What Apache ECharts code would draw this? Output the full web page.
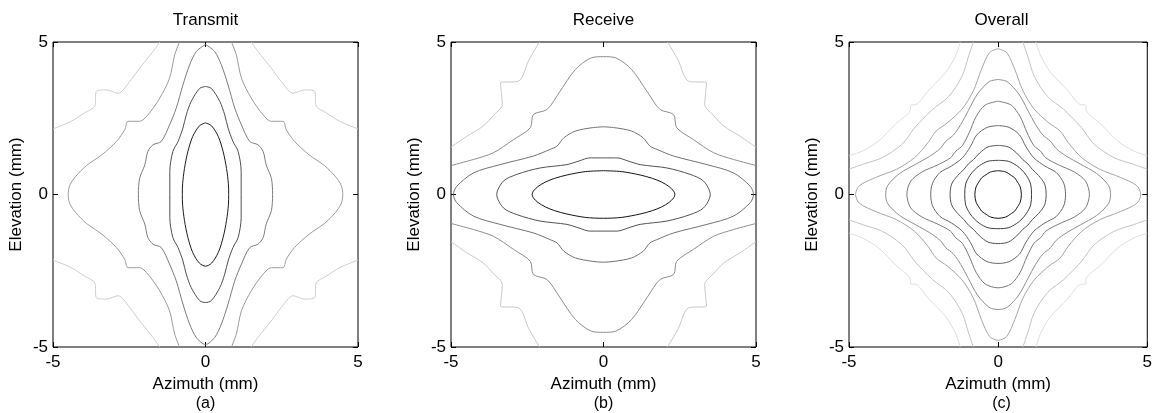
<!DOCTYPE html>
<html lang="en">
  <head>
    <meta charset="UTF-8" />
    <title>Transmit / Receive / Overall</title>
    <script src="https://cdn.jsdelivr.net/npm/echarts@6/dist/echarts.min.js"></script>
    <style>
      html, body { margin: 0; padding: 0; background: #fff; }
      #main { width: 1155px; height: 413px; }
    </style>
  </head>
  <body>
    <div id="main"></div>
    <script>
      // 坐标轴刻度
      const ticks = [-5, 0, 5];
      const panelTitles = ["Transmit", "Receive", "Overall"];
      const panelTags = ["(a)", "(b)", "(c)"];

      // 等值线：只记第一象限（从上方 x=0 到右侧 y=0），其余象限按对称镜像
      // Transmit
      const tx1 = [[0, 2.35], [0.2, 2.25], [0.42, 1.9], [0.58, 1.4], [0.69, 0.85], [0.75, 0.35], [0.76, 0]];
      const tx2 = [[0, 3.54], [0.19, 3.48], [0.47, 3.05], [0.63, 2.61], [0.74, 2.18], [0.9, 1.74], [1.07, 1.41], [1.17, 0.75], [1.17, 0]];
      const tx3 = [[0, 4.92], [0.3, 4.69], [0.52, 4.25], [0.74, 3.59], [0.96, 2.83], [1.18, 2.28], [1.45, 1.74], [1.72, 1.63], [1.89, 1.41], [1.99, 0.97], [2.16, 0.53], [2.2, 0]];
      const tx4 = [[0.85, 5], [1.01, 4.58], [1.18, 3.81], [1.5, 3.16], [1.89, 2.61], [2.16, 2.4], [2.54, 2.4], [2.65, 2.12], [2.92, 1.74], [3.4, 1.3], [3.9, 0.95], [4.25, 0.6], [4.45, 0.3], [4.5, 0]];
      const tx5 = [[1.5, 5], [1.72, 4.69], [2.16, 4.14], [2.49, 3.7], [2.87, 3.32], [3.25, 3.43], [3.58, 3.38], [3.63, 2.9], [3.96, 2.68], [4.4, 2.4], [5, 2.15]];
      // Receive
      const rx1 = [[0, 0.78], [0.6, 0.75], [1.2, 0.64], [1.6, 0.53], [1.9, 0.41], [2.15, 0.26], [2.3, 0.11], [2.34, 0]];
      const rx2 = [[0, 1.2], [0.45, 1.2], [0.8, 1.1], [1.2, 0.98], [2.08, 0.87], [2.84, 0.66], [3.28, 0.44], [3.5, 0]];
      const rx3 = [[0, 2.22], [0.37, 2.19], [0.92, 2.08], [1.3, 1.86], [1.52, 1.59], [1.75, 1.48], [2.3, 1.26], [3.39, 0.98], [4.26, 0.71], [4.81, 0.27], [4.92, 0]];
      const rx4 = [[0, 4.52], [0.4, 4.48], [0.92, 4.1], [1.46, 3.33], [1.85, 2.79], [2.3, 2.62], [2.4, 2.19], [2.95, 1.8], [3.61, 1.37], [4.26, 1.15], [5, 0.95]];
      const rx5 = [[2.1, 5], [2.45, 4.4], [2.78, 3.72], [3.38, 3.66], [3.32, 2.95], [3.6, 2.6], [3.95, 2.24], [4.48, 1.91], [5, 1.55]];
      // Overall
      const ov1 = [[0, 0.78], [0.25, 0.74], [0.45, 0.62], [0.55, 0.55], [0.62, 0.45], [0.74, 0.25], [0.78, 0]];
      const ov2 = [[0, 1.12], [0.34, 1.09], [0.62, 0.95], [0.8, 0.8], [0.95, 0.62], [1.09, 0.34], [1.12, 0]];
      const ov3 = [[0, 1.61], [0.34, 1.56], [0.62, 1.36], [0.82, 1.15], [1.0, 1.0], [1.15, 0.82], [1.36, 0.62], [1.56, 0.34], [1.61, 0]];
      const ov4 = [[0, 2.26], [0.37, 2.2], [0.72, 1.95], [0.93, 1.57], [1.2, 1.2], [1.57, 0.93], [1.95, 0.72], [2.2, 0.37], [2.26, 0]];
      const ov5 = [[0, 3.06], [0.44, 2.93], [0.74, 2.55], [0.96, 2.05], [1.2, 1.6], [1.42, 1.42], [1.6, 1.2], [2.05, 0.96], [2.55, 0.74], [2.93, 0.44], [3.06, 0]];
      const ov6 = [[0, 3.77], [0.3, 3.7], [0.69, 3.3], [1.0, 2.75], [1.25, 2.3], [1.5, 1.95], [1.75, 1.75], [1.95, 1.5], [2.3, 1.25], [2.75, 1.0], [3.3, 0.69], [3.7, 0.3], [3.77, 0]];
      const ov7 = [[0, 4.78], [0.29, 4.65], [0.56, 4.1], [0.83, 3.4], [1.21, 2.8], [1.7, 2.35], [2.08, 2.08], [2.35, 1.7], [2.8, 1.21], [3.4, 0.83], [4.1, 0.56], [4.65, 0.29], [4.78, 0]];
      const ov8 = [[0.83, 5], [0.99, 4.54], [1.21, 3.88], [1.65, 3.22], [2.2, 2.79], [2.5, 2.5], [2.79, 2.2], [3.22, 1.65], [3.88, 1.21], [4.54, 0.99], [5, 0.83]];
      const ov9 = [[1.27, 5], [1.43, 4.54], [1.76, 4.0], [2.31, 3.44], [2.75, 2.95], [2.93, 2.93], [2.95, 2.75], [3.44, 2.31], [4.0, 1.76], [4.54, 1.43], [5, 1.27]];

      const mx = (q) => q.map(([x, y]) => [-x, y]);
      const my = (q) => q.map(([x, y]) => [x, -y]);
      const rev = (q) => q.slice().reverse();

      // 闭合曲线
      const loop = (q) => [].concat(q, rev(my(q)), my(mx(q)), rev(mx(q)));
      // 穿过 y=0 的开口曲线（左右两支）
      const sideBranches = (q) => [q.concat(rev(my(q))), mx(q.concat(rev(my(q))))];
      // 穿过 x=0 的开口曲线（上下两支）
      const capBranches = (q) => [rev(mx(q)).concat(q), my(rev(mx(q)).concat(q))];
      // 四个角落
      const corners = (q) => [q, mx(q), my(q), my(mx(q))];

      const panels = [
        [
          [[loop(tx1)], "#1c1c1c"],
          [[loop(tx2)], "#4e4e4e"],
          [[loop(tx3)], "#7c7c7c"],
          [sideBranches(tx4), "#9a9a9a"],
          [corners(tx5), "#cdcdcd"],
        ],
        [
          [[loop(rx1)], "#141414"],
          [[loop(rx2)], "#525252"],
          [[loop(rx3)], "#727272"],
          [capBranches(rx4), "#8e8e8e"],
          [corners(rx5), "#c8c8c8"],
        ],
        [
          [[loop(ov1)], "#111111"],
          [[loop(ov2)], "#3c3c3c"],
          [[loop(ov3)], "#525252"],
          [[loop(ov4)], "#666666"],
          [[loop(ov5)], "#7a7a7a"],
          [[loop(ov6)], "#8e8e8e"],
          [[loop(ov7)], "#a6a6a6"],
          [corners(ov8), "#c2c2c2"],
          [corners(ov9), "#dddddd"],
        ],
      ];

      const panelLefts = [53, 451, 849];
      const panelSize = 305;
      const panelTop = 42;
      const font = "Liberation Sans, Arial, sans-serif";
      const fs = 17;

      const grid = [];
      const xAxis = [];
      const yAxis = [];
      const series = [];
      const graphic = [];

      panelLefts.forEach((left, g) => {
        grid.push({
          left: left,
          top: panelTop,
          width: panelSize,
          height: panelSize,
          show: true,
          borderColor: "#000",
          borderWidth: 1,
          backgroundColor: "#fff",
        });
        const base = {
          type: "value",
          min: ticks[0],
          max: ticks[2],
          interval: 5,
          gridIndex: g,
          splitLine: { show: false },
          axisLine: { show: false, onZero: false },
          axisTick: { show: true, inside: true, length: 5, lineStyle: { color: "#000" } },
        };
        xAxis.push({
          ...base,
          position: "bottom",
          name: "Azimuth (mm)",
          nameLocation: "middle",
          nameGap: 28,
          nameTextStyle: { color: "#000", fontSize: fs, fontFamily: font },
          axisLabel: { color: "#000", fontSize: fs, fontFamily: font, margin: 7 },
        });
        xAxis.push({ ...base, position: "top", axisLabel: { show: false } });
        yAxis.push({
          ...base,
          position: "left",
          name: "Elevation (mm)",
          nameLocation: "middle",
          nameGap: 28,
          nameTextStyle: { color: "#000", fontSize: fs, fontFamily: font },
          axisLabel: { color: "#000", fontSize: fs, fontFamily: font, margin: 5 },
        });
        yAxis.push({ ...base, position: "right", axisLabel: { show: false } });

        panels[g].forEach(([parts, color]) => {
          parts.forEach((pts) => {
            series.push({
              type: "line",
              xAxisIndex: 2 * g,
              yAxisIndex: 2 * g,
              data: pts,
              showSymbol: false,
              smooth: 0.3,
              silent: true,
              lineStyle: { color: color, width: 1 },
            });
          });
        });

        const cx = left + panelSize / 2;
        graphic.push({
          type: "text",
          x: cx,
          y: 20,
          style: { text: panelTitles[g], font: fs + "px " + font, fill: "#000", textAlign: "center", textVerticalAlign: "middle" },
        });
        graphic.push({
          type: "text",
          x: cx,
          y: 404,
          style: { text: panelTags[g], font: "16px " + font, fill: "#000", textAlign: "center", textVerticalAlign: "middle" },
        });
      });

      const myChart = echarts.init(document.getElementById("main"));
      myChart.setOption({
        animation: false,
        grid: grid,
        xAxis: xAxis,
        yAxis: yAxis,
        series: series,
        graphic: graphic,
      });
    </script>
  </body>
</html>
